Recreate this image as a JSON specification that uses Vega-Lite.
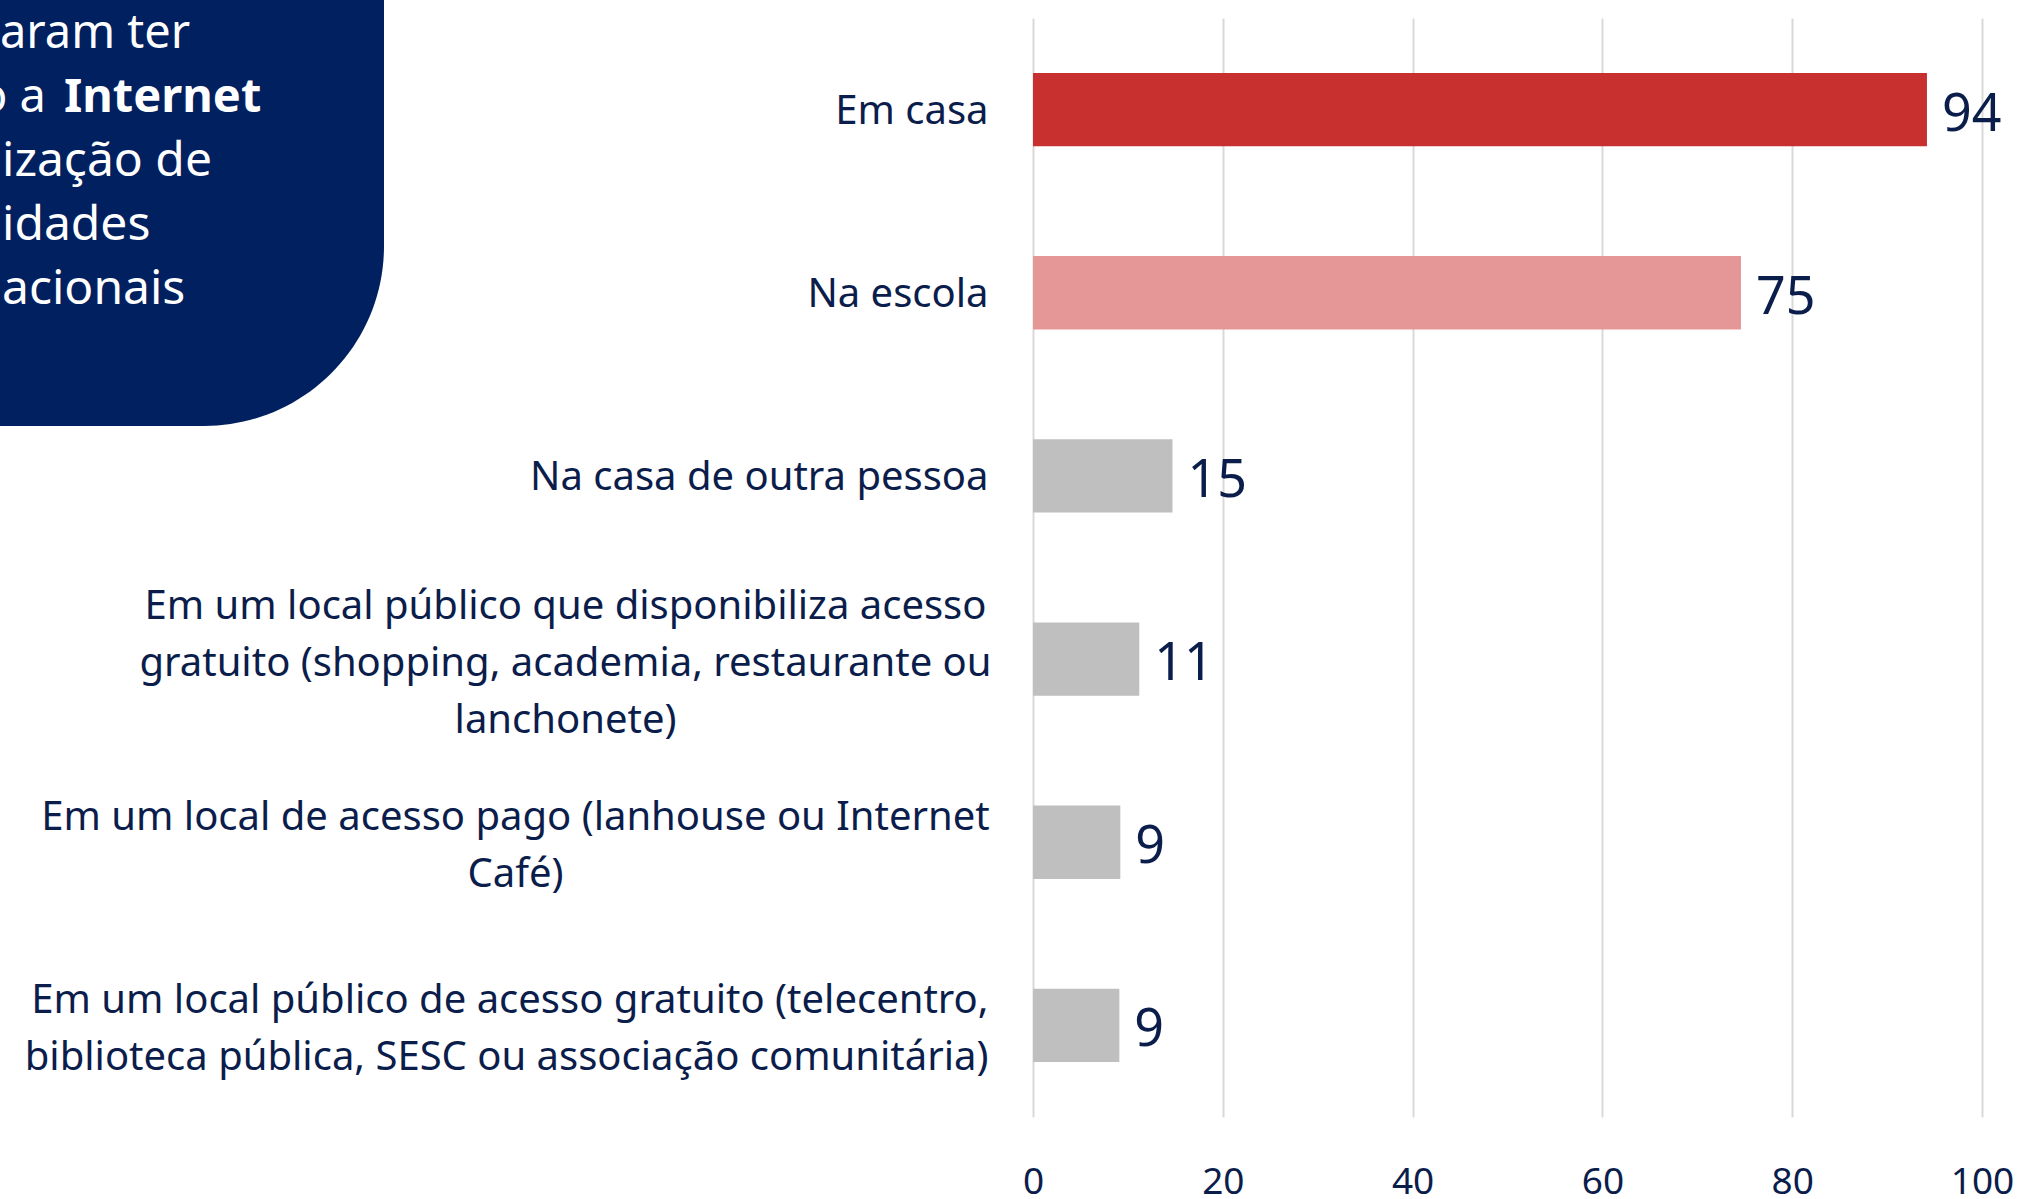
{
  "$schema": "https://vega.github.io/schema/vega-lite/v6.json",
  "width": 949,
  "height": 1099,
  "autosize": {"type": "none"},
  "padding": {"left": 1033, "top": 18, "right": 41, "bottom": 82},
  "background": "#ffffff",
  "config": {
    "view": {"stroke": null},
    "font": "Noto Sans"
  },
  "data": {
    "values": [
      {"local": "Em casa", "valor": 94.2},
      {"local": "Na escola", "valor": 74.6},
      {"local": "Na casa de outra pessoa", "valor": 14.7},
      {"local": "Em um local público que disponibiliza acesso|gratuito (shopping, academia, restaurante ou|lanchonete)", "valor": 11.2},
      {"local": "Em um local de acesso pago (lanhouse ou Internet|Café)", "valor": 9.2},
      {"local": "Em um local público de acesso gratuito (telecentro,|biblioteca pública, SESC ou associação comunitária)", "valor": 9.1}
    ]
  },
  "layer": [
    {
      "mark": {"type": "bar"},
      "encoding": {
        "y": {
          "field": "local",
          "type": "nominal",
          "sort": null,
          "scale": {"paddingInner": 0.6, "paddingOuter": 0.3},
          "axis": {
            "title": null,
            "domain": false,
            "ticks": false,
            "grid": false,
            "labelFont": "Noto Sans",
            "labelFontSize": 40,
            "labelColor": "#0b1d4b",
            "labelLineHeight": 57,
            "labelLimit": 0,
            "labelBaseline": "middle",
            "labelExpr": "split(datum.label, '|')",
            "labelAlign": {
              "condition": {"test": "indexof(datum.value, 'disponibiliza') >= 0 || indexof(datum.value, 'pago') >= 0", "value": "center"},
              "value": "right"
            },
            "labelPadding": {
              "condition": [
                {"test": "indexof(datum.value, 'disponibiliza') >= 0", "value": 468},
                {"test": "indexof(datum.value, 'pago') >= 0", "value": 518}
              ],
              "value": 45
            },
            "labelOffset": {
              "condition": [
                {"test": "indexof(datum.value, 'disponibiliza') >= 0", "value": -52},
                {"test": "indexof(datum.value, 'pago') >= 0 || indexof(datum.value, 'telecentro') >= 0", "value": -24}
              ],
              "value": 2
            }
          }
        },
        "x": {
          "field": "valor",
          "type": "quantitative",
          "scale": {"domain": [0, 100], "nice": false},
          "axis": {
            "title": null,
            "values": [0, 20, 40, 60, 80, 100],
            "domain": false,
            "ticks": false,
            "grid": true,
            "gridColor": "#d9d9d9",
            "gridWidth": 2,
            "labelFont": "Noto Sans",
            "labelFontSize": 37,
            "labelColor": "#0b1d4b",
            "labelPadding": 47,
            "labelBaseline": "top",
            "labelFlush": false
          }
        },
        "color": {
          "field": "local",
          "type": "nominal",
          "legend": null,
          "scale": {
            "domain": [
              "Em casa",
              "Na escola",
              "Na casa de outra pessoa",
              "Em um local público que disponibiliza acesso|gratuito (shopping, academia, restaurante ou|lanchonete)",
              "Em um local de acesso pago (lanhouse ou Internet|Café)",
              "Em um local público de acesso gratuito (telecentro,|biblioteca pública, SESC ou associação comunitária)"
            ],
            "range": ["#c8302f", "#e49796", "#bfbfbf", "#bfbfbf", "#bfbfbf", "#bfbfbf"]
          }
        }
      }
    },
    {
      "mark": {"type": "text", "align": "left", "baseline": "middle", "dx": 15, "dy": 5, "fontSize": 52, "font": "Noto Sans", "color": "#0b1d4b"},
      "encoding": {
        "y": {"field": "local", "type": "nominal", "sort": null},
        "x": {"field": "valor", "type": "quantitative"},
        "text": {"field": "valor", "type": "quantitative", "format": ".0f"}
      }
    },
    {
      "data": {"values": [{"caixa": "nota"}]},
      "mark": {"type": "rect", "color": "#002060", "cornerRadiusBottomRight": 180},
      "encoding": {
        "x": {"value": -1045},
        "x2": {"value": -649},
        "y": {"value": -30},
        "y2": {"value": 408}
      }
    },
    {
      "data": {"values": [{"caixa": "nota"}]},
      "mark": {"type": "text", "align": "left", "baseline": "alphabetic", "fontSize": 47, "font": "Noto Sans", "color": "#ffffff", "text": "aram ter"},
      "encoding": {
        "x": {"value": -1033},
        "y": {"value": 30}
      }
    },
    {
      "data": {"values": [{"caixa": "nota"}]},
      "mark": {"type": "text", "align": "left", "baseline": "alphabetic", "fontSize": 48, "font": "Noto Sans", "color": "#ffffff", "lineHeight": 64,
        "text": ["ização de", "idades", "acionais"]},
      "encoding": {
        "x": {"value": -1031},
        "y": {"value": 158}
      }
    },
    {
      "data": {"values": [{"caixa": "nota"}]},
      "mark": {"type": "text", "align": "right", "baseline": "alphabetic", "fontSize": 47, "font": "Noto Sans", "color": "#ffffff", "text": "o a"},
      "encoding": {
        "x": {"value": -987},
        "y": {"value": 94}
      }
    },
    {
      "data": {"values": [{"caixa": "nota"}]},
      "mark": {"type": "text", "align": "left", "baseline": "alphabetic", "fontSize": 47, "font": "Noto Sans", "fontWeight": "bold", "color": "#ffffff", "text": "Internet"},
      "encoding": {
        "x": {"value": -969},
        "y": {"value": 94}
      }
    }
  ]
}
